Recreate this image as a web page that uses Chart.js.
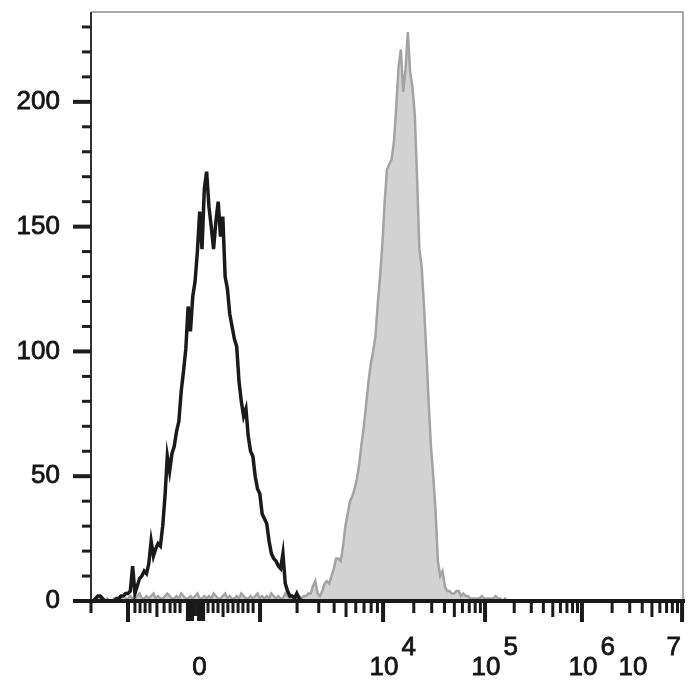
<!DOCTYPE html>
<html>
<head>
<meta charset="utf-8">
<script src="https://cdn.jsdelivr.net/npm/chart.js@4.4.1/dist/chart.umd.min.js"></script>
<style>
  html, body { margin: 0; padding: 0; background: #fff; }
</style>
</head>
<body>
<canvas id="histogram" width="700" height="700"></canvas>
<script>
// display channels across the x axis (biexponential display, 256 channels)
const channelMax = 256;
const countMax = 236;

// y axis
const yLabels = [0, 50, 100, 150, 200];
const yMinorTicks = [10, 20, 30, 40, 60, 70, 80, 90, 110, 120, 130, 140, 160, 170, 180, 190, 210, 220, 230];

// x axis: decade positions (channel) for 10^3 .. 10^7
const decadeChannels = [73.1, 126.3, 170.4, 212.3, 255.6];
const linearShortTicks = [0, 19, 21.2, 23.4, 25.5, 31.6, 34.2, 36.3, 38.5, 50.6, 52.8, 54.9, 59.2, 61.4, 63.6, 65.7, 67.9, 70.1];
const linearMidTicks = [28.5, 57.1];
const zeroBlockTicks = [41.6, 42.4, 43.2, 44.0, 44.8, 45.6, 46.4, 47.2, 48.0, 48.8];
const longTicks = [16, 73.1, 126.3, 170.4, 212.3, 255.6];
const xLabelChannels = [46.5, 126.3, 170.4, 212.3, 255.6];
const xLabelBase = ['0', '10', '10', '10', '10'];
const xLabelExp = ['', '4', '5', '6', '7'];

// unstained / isotype control (black line), channels 0..91
const controlCounts = [
  0, 0, 1, 2, 2, 1, 0, 0, 0, 0, 0, 1, 1, 2, 2, 3, 3, 4,
  14, 3, 6, 9, 10, 12, 11, 15, 24, 18, 21, 23, 22, 30, 42, 58, 52, 59,
  62, 68, 72, 84, 92, 101, 118, 108, 122, 128, 140, 156, 141, 165, 172, 158, 150, 141,
  152, 160, 146, 154, 130, 125, 115, 110, 105, 102, 88, 80, 74, 77, 66, 60, 58, 50,
  45, 43, 35, 33, 31, 24, 19, 17, 16, 14, 13, 19, 7, 4, 2, 2, 1, 3, 1, 0
];

// stained sample (grey filled), channels 0..180
const stainedCounts = [
  0, 0, 1, 0, 1, 0, 0, 1, 0, 0, 1, 0, 1, 1, 0, 1,
  1, 2, 1, 1, 2, 3, 1, 1, 2, 1,
  2, 3, 1, 2, 1, 1, 2, 3, 2, 1,
  1, 2, 1, 3, 2, 1, 1, 2, 1, 2,
  3, 1, 1, 2, 1, 2, 1, 3, 2, 1,
  1, 2, 3, 1, 2, 1, 1, 2, 1, 3,
  2, 1, 1, 2, 1, 2, 3, 1, 2, 1,
  2, 1, 3, 2, 1, 2, 1, 1, 3, 2,
  1, 2, 1, 2, 2,
  1, 2, 2, 3, 3, 6, 8, 3, 2, 4,
  7, 8, 7, 10, 13, 17, 17, 16, 22, 30,
  35, 40, 42, 45, 49, 55, 63, 70, 79, 88,
  95, 100, 106, 119, 130, 143, 160, 173, 175, 177,
  184, 198, 214, 221, 204, 213, 228, 212, 206, 195,
  170, 141, 134, 118, 100, 80, 62, 50, 36, 16,
  10, 12, 6, 4, 4, 3, 3, 4, 4, 2,
  3, 2, 2, 1, 1, 1, 1, 1, 2, 1,
  1, 1, 1, 1, 2, 1, 1, 0, 1, 0
];

const toPoints = (arr) => arr.map((v, i) => ({ x: i, y: v }));
const labelFont = '26px "Liberation Sans", Arial, sans-serif';
const textColor = '#151515';

const axesPainter = {
  id: 'axesPainter',
  afterDraw(chart) {
    const { ctx, chartArea: a, scales: { x, y } } = chart;
    ctx.save();

    // thin frame on top and right
    ctx.strokeStyle = '#8c8c8c';
    ctx.lineWidth = 1.5;
    ctx.beginPath();
    ctx.moveTo(a.left, a.top);
    ctx.lineTo(a.right, a.top);
    ctx.lineTo(a.right, a.bottom);
    ctx.stroke();

    // y axis line + ticks
    ctx.strokeStyle = '#333';
    ctx.lineWidth = 2;
    ctx.beginPath();
    ctx.moveTo(a.left, a.top);
    ctx.lineTo(a.left, a.bottom);
    ctx.stroke();

    ctx.fillStyle = '#1e1e1e';
    yMinorTicks.forEach(v => {
      const py = y.getPixelForValue(v);
      ctx.fillRect(a.left - 9, py - 1.5, 9, 3);
    });
    yLabels.forEach(v => {
      const py = y.getPixelForValue(v);
      ctx.fillRect(a.left - 18, py - 2, 18, 4);
    });

    // x axis line + ticks
    ctx.fillStyle = '#1a1a1a';
    ctx.fillRect(a.left - 17, a.bottom - 2, a.right - a.left + 19, 4);
    const tick = (v, len, w) => {
      const px = x.getPixelForValue(v);
      ctx.fillRect(px - w / 2, a.bottom, w, len);
    };
    linearShortTicks.forEach(v => tick(v, 12, 3));
    linearMidTicks.forEach(v => tick(v, 16, 3));
    zeroBlockTicks.forEach((v, i) => tick(v, (i === 4 || i === 5) ? 15 : 20, 2.5));
    longTicks.forEach(v => tick(v, 21, 4));
    for (let d = 0; d < decadeChannels.length - 1; d++) {
      const c0 = decadeChannels[d], c1 = decadeChannels[d + 1];
      for (let k = 2; k <= 9; k++) {
        tick(c0 + Math.log10(k) * (c1 - c0), k === 5 ? 16 : 12, 3);
      }
    }

    // x labels with superscript exponents
    ctx.font = labelFont;
    ctx.fillStyle = textColor;
    ctx.strokeStyle = textColor;
    ctx.lineWidth = 0.8;
    ctx.textBaseline = 'alphabetic';
    ctx.textAlign = 'left';
    const baseY = a.bottom + 74;
    const put = (s, px, py) => { ctx.fillText(s, px, py); ctx.strokeText(s, px, py); };
    xLabelChannels.forEach((v, i) => {
      const base = xLabelBase[i], exp = xLabelExp[i];
      const bw = ctx.measureText(base).width;
      const ew = exp ? ctx.measureText(exp).width : 0;
      let left = x.getPixelForValue(v) - bw / 2 + 1;
      let expLeft = left + bw + 3;
      if (expLeft + ew > a.right) {
        // last decade sits on the frame edge: exponent flush right, base pulled left
        expLeft = a.right - ew - 2;
        left = expLeft - 19 - bw;
      }
      put(base, left, baseY);
      if (exp) put(exp, expLeft, baseY - 20);
    });

    ctx.restore();
  }
};

new Chart(document.getElementById('histogram'), {
  type: 'line',
  data: {
    datasets: [
      {
        label: 'Control',
        data: toPoints(controlCounts),
        borderColor: '#1a1a1a',
        borderWidth: 3.5,
        pointRadius: 0,
        tension: 0,
        fill: false,
        order: 0,
      },
      {
        label: 'Stained',
        data: toPoints(stainedCounts),
        borderColor: '#a3a3a5',
        backgroundColor: '#d2d2d2',
        borderWidth: 2.5,
        pointRadius: 0,
        tension: 0,
        fill: 'origin',
        order: 1,
      },
    ],
  },
  options: {
    responsive: false,
    animation: false,
    layout: { padding: { left: 0, top: 12, right: 17, bottom: 99 } },
    plugins: { legend: { display: false }, tooltip: { enabled: false } },
    scales: {
      x: {
        type: 'linear',
        display: false,
        min: 0,
        max: channelMax,
      },
      y: {
        min: 0,
        max: countMax,
        afterBuildTicks: (scale) => { scale.ticks = yLabels.map(v => ({ value: v })); },
        afterFit: (scale) => { scale.width = 91; scale.paddingTop = 0; scale.paddingBottom = 0; },
        grid: { display: false, drawTicks: false },
        border: { display: false },
        ticks: {
          padding: 31,
          color: textColor,
          textStrokeColor: textColor,
          textStrokeWidth: 0.8,
          font: { family: '"Liberation Sans", Arial, sans-serif', size: 26 },
        },
      },
    },
  },
  plugins: [axesPainter],
});
</script>
</body>
</html>
